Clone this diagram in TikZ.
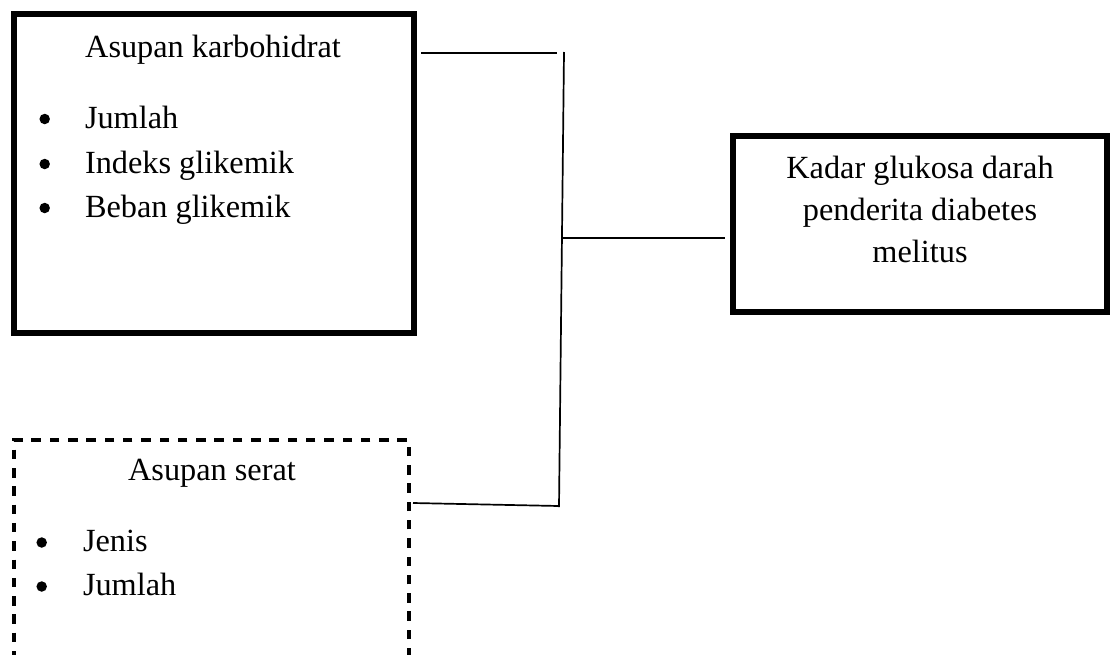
\documentclass[tikz,border=0pt]{standalone}
\usepackage{fontspec}
\setmainfont{Liberation Serif}
\begin{document}
\begin{tikzpicture}[x=1pt,y=-1pt,
  thickbox/.style={draw=black,line width=6pt,rectangle,outer sep=0pt,inner sep=0pt},
  dashbox/.style={draw=black,line width=3.2pt,dash pattern=on 9.5pt off 8.8pt,rectangle,outer sep=0pt,inner sep=0pt},
  conn/.style={draw=black,line width=1.7pt},
  txt/.style={font=\fontsize{32.3}{42}\selectfont,inner sep=0pt,outer sep=0pt,anchor=base},
  item/.style={txt,anchor=base west},
  bul/.style={circle,fill=black,draw=none,inner sep=0pt,minimum size=10.5pt}]
\clip (0,0) rectangle (1116,654);
% boxes
\node[thickbox,minimum width=400pt,minimum height=319pt] (kh) at (214,173.5) {};
\node[thickbox,minimum width=374pt,minimum height=176pt] (res) at (920,224) {};
\node[dashbox,minimum width=395pt,minimum height=280pt] (fib) at (211.5,580) {};
% box 1 text
\node[txt] (kht) at (213,57) {Asupan karbohidrat};
\node[bul] (b1) at (44.7,119) {};
\node[item] (i1) at (85,128) {Jumlah};
\node[bul] (b2) at (44.7,164) {};
\node[item] (i2) at (85,173) {Indeks glikemik};
\node[bul] (b3) at (44.7,208) {};
\node[item] (i3) at (85,217) {Beban glikemik};
% result text
\node[txt] (r1) at (920,178) {Kadar glukosa darah};
\node[txt] (r2) at (920,220) {penderita diabetes};
\node[txt] (r3) at (920,262) {melitus};
% fibre box text
\node[txt] (fbt) at (212,480) {Asupan serat};
\node[bul] (b4) at (41.7,542.5) {};
\node[item] (i4) at (83,551) {Jenis};
\node[bul] (b5) at (41.7,586.5) {};
\node[item] (i5) at (83,595) {Jumlah};
% connectors
\coordinate (j1) at (557,53);
\coordinate (vtop) at (564,52);
\coordinate (vmid) at (563,238);
\coordinate (vbot) at (559,507);
\coordinate (j3) at (559,506);
\draw[conn] ([xshift=7pt]kh.east |- j1) -- (j1);
\draw[conn] (vtop) -- (vbot);
\draw[conn] (vmid) -- ([xshift=-8pt]res.west |- vmid);
\draw[conn] ([xshift=4pt,yshift=-63pt]fib.north east) -- (j3);
\end{tikzpicture}
\end{document}
